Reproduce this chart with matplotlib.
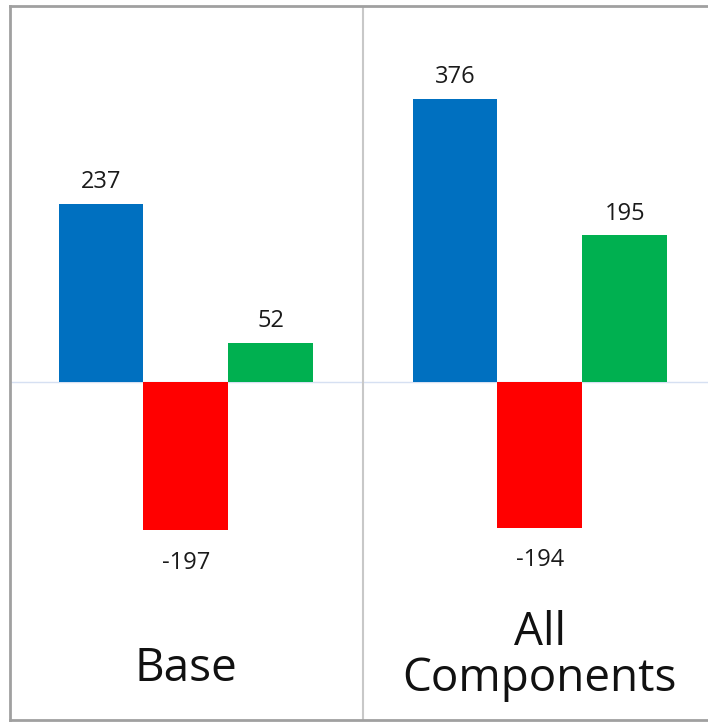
import numpy as np
import matplotlib
matplotlib.use("Agg")
import matplotlib.pyplot as plt
import matplotlib.transforms as mtransforms

plt.rcParams['font.family'] = ['Open Sans', 'DejaVu Sans']

groups = ["Base", "All\nComponents"]
blue_vals = [237, 376]
red_vals = [-197, -194]
green_vals = [52, 195]

series = [blue_vals, red_vals, green_vals]
colors = ["#0070C0", "#FF0000", "#00B050"]

W, H = 708, 723
fig = plt.figure(figsize=(W / 100, H / 100), dpi=100)
ax = fig.add_axes([10 / W, 3 / H, 1 - 10 / W, 714 / H])

x = np.arange(len(groups))
width = 0.24
for k, (vals, c) in enumerate(zip(series, colors)):
    xs = x + (k - 1) * width
    ax.bar(xs, vals, width, color=c, zorder=3)
    for xi, v in zip(xs, vals):
        if v >= 0:
            ax.annotate(str(v), (xi, v), xytext=(0, 7), textcoords="offset points",
                        ha="center", va="bottom", fontsize=17, color="#1a1a1a")
        else:
            ax.annotate(str(v), (xi, v), xytext=(0, -15), textcoords="offset points",
                        ha="center", va="top", fontsize=17, color="#1a1a1a")

ax.axhline(0, color="#d6e0f2", lw=1, zorder=2)
ax.axvline(0.5, color="#c8c8c8", lw=1.5, zorder=2)

tr = mtransforms.blended_transform_factory(ax.transData, ax.transAxes)
label_y = [0.071, 0.089]
for xi, name, ly in zip(x, groups, label_y):
    ax.text(xi, ly, name, transform=tr, ha="center", va="center",
            fontsize=33, linespacing=1.0, color="#111111")

ax.set_xlim(-0.497, 1.4746)
ax.set_ylim(-450, 500)
ax.set_xticks([])
ax.set_yticks([])
for s in ["left", "top", "bottom"]:
    ax.spines[s].set_color("#a0a0a0")
    ax.spines[s].set_linewidth(2)
ax.spines["right"].set_visible(False)

fig.savefig("out.png", dpi=100)
